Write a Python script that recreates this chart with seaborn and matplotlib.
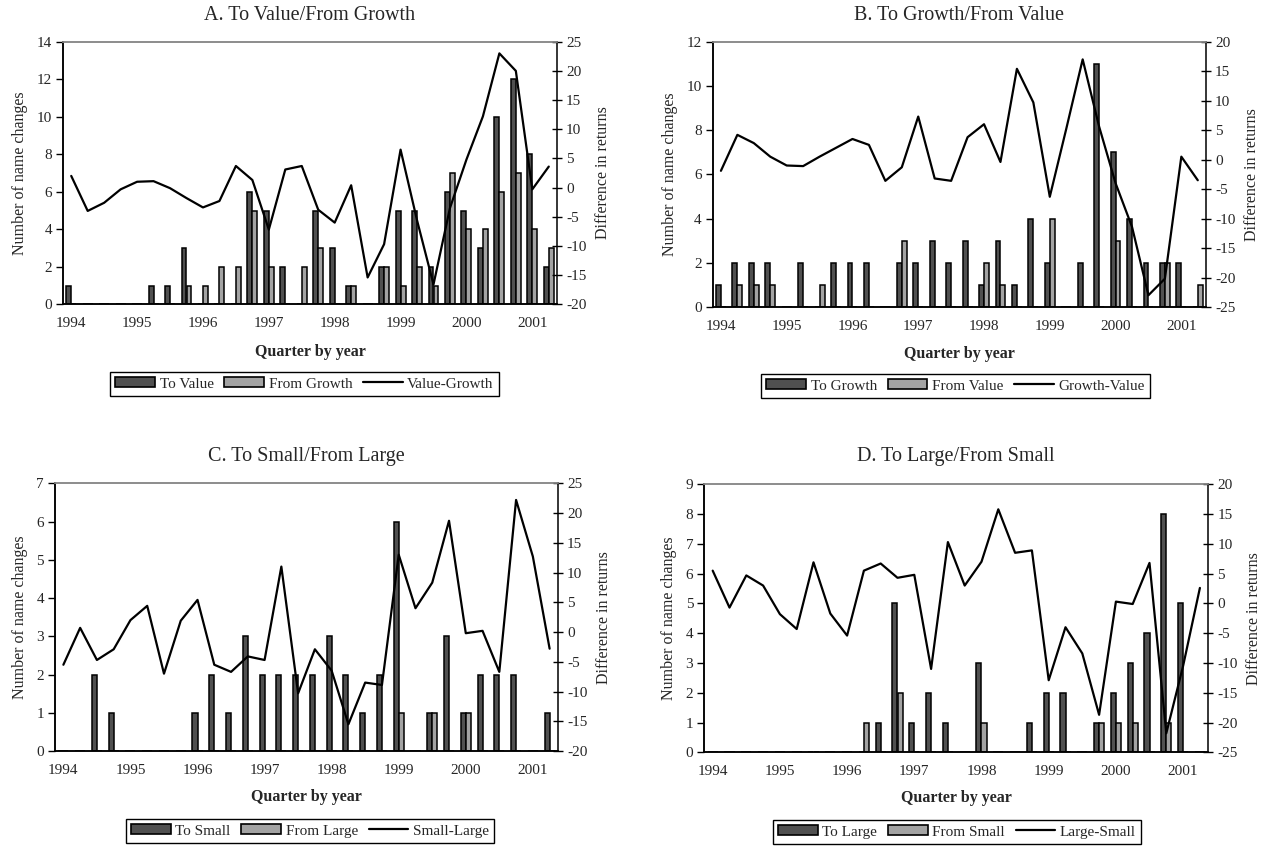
import numpy as np
import pandas as pd
import matplotlib
matplotlib.use("Agg")
import matplotlib.pyplot as plt
from matplotlib.patches import Patch
from matplotlib.lines import Line2D
import seaborn as sns

# ---------------- data ----------------
years = ["1994", "1995", "1996", "1997", "1998", "1999", "2000", "2001"]
n_quarters = 30  # 1994Q1 .. 2001Q2

# Panel A
to_value = [1, 0, 0, 0, 0, 1, 1, 3, 0, 0, 0, 6, 5, 2, 0, 5, 3, 1, 0, 2, 5, 5, 2, 6, 5, 3, 10, 12, 8, 2]
from_growth = [0, 0, 0, 0, 0, 0, 0, 1, 1, 2, 2, 5, 2, 0, 2, 3, 0, 1, 0, 2, 1, 2, 1, 7, 4, 4, 6, 7, 4, 3]
value_growth = [2.0, -4.0, -2.6, -0.3, 1.0, 1.1, -0.1, -1.8, -3.4, -2.3, 3.7, 1.3, -7.2, 3.1, 3.7,
                -3.8, -6.0, 0.4, -15.4, -9.7, 6.5, -5.6, -16.6, -3.5, 4.8, 12.2, 23.0, 20.0, -0.3, 3.6]

# Panel B
to_growth = [1, 2, 2, 2, 0, 2, 0, 2, 2, 2, 0, 2, 2, 3, 2, 3, 1, 3, 1, 4, 2, 0, 2, 11, 7, 4, 2, 2, 2, 0]
from_value = [0, 1, 1, 1, 0, 0, 1, 0, 0, 0, 0, 3, 0, 0, 0, 0, 2, 1, 0, 0, 4, 0, 0, 0, 3, 0, 0, 2, 0, 1]
growth_value = [-1.9, 4.2, 2.8, 0.5, -1.0, -1.1, 0.5, 2.0, 3.5, 2.5, -3.6, -1.3, 7.3, -3.2, -3.6,
                3.8, 6.0, -0.4, 15.4, 9.7, -6.3, 5.2, 17.0, 5.6, -4.0, -11.4, -23.0, -20.2, 0.5, -3.5]

# Panel C
to_small = [0, 0, 2, 1, 0, 0, 0, 0, 1, 2, 1, 3, 2, 2, 2, 2, 3, 2, 1, 2, 6, 0, 1, 3, 1, 2, 2, 2, 0, 1]
from_large = [0, 0, 0, 0, 0, 0, 0, 0, 0, 0, 0, 0, 0, 0, 0, 0, 0, 0, 0, 0, 1, 0, 1, 0, 1, 0, 0, 0, 0, 0]
small_large = [-5.5, 0.7, -4.7, -2.9, 2.0, 4.4, -7.0, 1.9, 5.4, -5.5, -6.7, -4.1, -4.7, 11.0, -10.3,
               -2.9, -6.5, -15.5, -8.5, -8.9, 13.0, 4.0, 8.3, 18.7, -0.2, 0.2, -6.7, 22.2, 12.7, -2.8]

# Panel D
to_large = [0, 0, 0, 0, 0, 0, 0, 0, 0, 0, 1, 5, 1, 2, 1, 0, 3, 0, 0, 1, 2, 2, 0, 1, 2, 3, 4, 8, 5, 0]
from_small = [0, 0, 0, 0, 0, 0, 0, 0, 0, 1, 0, 2, 0, 0, 0, 0, 1, 0, 0, 0, 0, 0, 0, 1, 1, 1, 0, 1, 0, 0]
large_small = [5.5, -0.7, 4.7, 3.0, -1.8, -4.3, 6.9, -1.7, -5.4, 5.5, 6.7, 4.3, 4.8, -11.0, 10.3,
               3.0, 7.0, 15.8, 8.5, 8.9, -12.9, -4.0, -8.4, -18.7, 0.3, -0.1, 6.8, -21.8, -10.5, 2.6]

titles = ["A. To Value/From Growth", "B. To Growth/From Value",
          "C. To Small/From Large", "D. To Large/From Small"]
bar_labels = [("To Value", "From Growth"), ("To Growth", "From Value"),
              ("To Small", "From Large"), ("To Large", "From Small")]
line_labels = ["Value-Growth", "Growth-Value", "Small-Large", "Large-Small"]
bar_data = [(to_value, from_growth), (to_growth, from_value),
            (to_small, from_large), (to_large, from_small)]
line_data = [value_growth, growth_value, small_large, large_small]

# ---------------- style ----------------
sns.set_theme(style="white")
plt.rcParams["font.family"] = ["Liberation Serif", "DejaVu Serif"]
plt.rcParams["axes.unicode_minus"] = False

DARK = "#505050"
LIGHT = "#a3a3a3"
W, H = 1268, 847

fig = plt.figure(figsize=(W / 100, H / 100), dpi=100)

# pixel layout: left, right, top, bottom
rects = [(63, 557, 41.7, 304.3), (712.7, 1206, 41.7, 307),
         (55, 558, 483.3, 751), (704.3, 1208.3, 484.3, 752.3)]
left_lims = [(14, 2), (12, 2), (7, 1), (9, 1)]
right_lims = [(-20, 25), (-25, 20), (-20, 25), (-25, 20)]
title_y = [15, 15, 457, 457]
xlabel_y = [352, 354, 797, 798]
legend_top = [372, 374, 819, 820]
legend_cx = [304.5, 955.5, 310, 957]

q = np.arange(n_quarters)

for i in range(4):
    l, r, t, b = rects[i]
    ax = fig.add_axes([l / W, 1 - b / H, (r - l) / W, (b - t) / H])
    d1, d2 = bar_data[i]
    lab1, lab2 = bar_labels[i]
    df = pd.DataFrame({
        "quarter": np.concatenate([q, q]),
        "count": np.concatenate([d1, d2]),
        "series": [lab1] * n_quarters + [lab2] * n_quarters,
    })
    sns.barplot(data=df, x="quarter", y="count", hue="series", hue_order=[lab1, lab2],
                palette=[DARK, LIGHT], width=0.6, saturation=1, edgecolor="black",
                linewidth=1.1, ax=ax, legend=False, errorbar=None)
    ax2 = ax.twinx()
    sns.lineplot(x=q, y=line_data[i], ax=ax2, color="black", linewidth=1.6)

    ax.set_xlim(-0.5, n_quarters - 0.5)
    top, step = left_lims[i]
    ax.set_ylim(0, top)
    ax.set_yticks(np.arange(0, top + 0.01, step))
    lo, hi = right_lims[i]
    ax2.set_ylim(lo, hi)
    ax2.set_yticks(np.arange(lo, hi + 0.01, 5))

    # x ticks: marks between categories, year labels at Q1
    ax.set_xticks(np.arange(-0.5, n_quarters, 1))
    ax.set_xticklabels([])
    ax.set_xticks(np.arange(0, n_quarters, 4), minor=True)
    ax.set_xticklabels(years, minor=True)
    ax.tick_params(axis="x", which="major", direction="inout", length=7, width=1, color="black")
    ax.tick_params(axis="x", which="minor", length=0, pad=9, labelsize=11)
    ax.tick_params(axis="y", direction="out", length=5, width=1, color="black",
                   labelsize=11, pad=3, left=True)
    ax2.tick_params(axis="y", direction="inout", length=7, width=1, color="black",
                    labelsize=11, pad=3, right=True)

    for a in (ax, ax2):
        a.grid(False)
        a.set_facecolor("none")
        a.spines["top"].set_color("#8c8c8c")
        a.spines["top"].set_linewidth(1.2)
        for s in ("left", "right", "bottom"):
            a.spines[s].set_color("black")
            a.spines[s].set_linewidth(1.1)
    ax.spines["right"].set_visible(False)

    ax.set_ylabel("Number of name changes", fontsize=11.5, labelpad=6)
    ax2.set_ylabel("Difference in returns", fontsize=11.5, labelpad=6, rotation=90)
    ax.set_xlabel("Quarter by year", fontsize=11.5, fontweight="bold")
    ax.xaxis.set_label_coords(0.5, (b - xlabel_y[i]) / (b - t))
    ax.xaxis.label.set_va("center")

    fig.text((l + r) / 2 / W, 1 - title_y[i] / H, titles[i], ha="center", va="center",
             fontsize=14.5)

    handles = [Patch(facecolor=DARK, edgecolor="black", linewidth=1.2),
               Patch(facecolor=LIGHT, edgecolor="black", linewidth=1.2),
               Line2D([0], [0], color="black", linewidth=1.6)]
    leg = fig.legend(handles, [lab1, lab2, line_labels[i]], loc="upper center",
                     bbox_to_anchor=(legend_cx[i] / W, 1 - legend_top[i] / H),
                     ncol=3, fontsize=11, frameon=True, fancybox=False, framealpha=1,
                     edgecolor="black", handlelength=2.6, handleheight=0.6,
                     handletextpad=0.3, columnspacing=0.7, borderpad=0.35,
                     borderaxespad=0)
    leg.get_frame().set_linewidth(1.0)

fig.savefig("out.png", dpi=100, facecolor="white")
